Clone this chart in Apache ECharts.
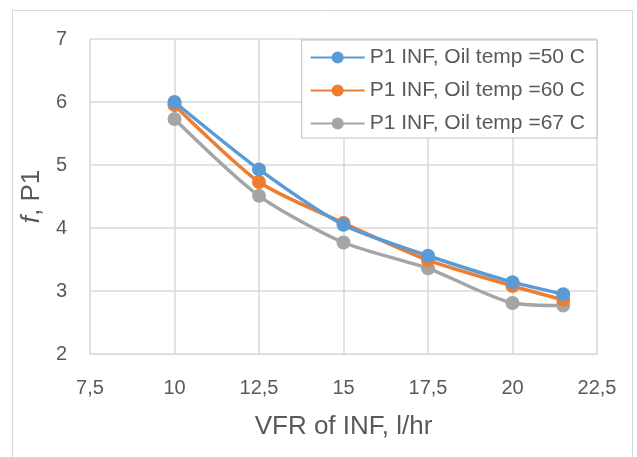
<!DOCTYPE html>
<html><head><meta charset="utf-8">
<script src="https://cdn.jsdelivr.net/npm/echarts@6/dist/echarts.min.js"></script>
<style>html,body{margin:0;padding:0;background:#fff}#c{width:637px;height:457px}</style>
</head><body><div id="c"></div>
<script>
const xValues = [10, 12.5, 15, 17.5, 20, 21.5];
const seriesNames = ['P1 INF, Oil temp =50 C', 'P1 INF, Oil temp =60 C', 'P1 INF, Oil temp =67 C'];
const temp50 = [6.00, 4.93, 4.05, 3.56, 3.14, 2.95];
const temp60 = [5.95, 4.73, 4.08, 3.49, 3.08, 2.86];
const temp67 = [5.73, 4.51, 3.77, 3.36, 2.81, 2.77];
const colors = ['#5b9bd5', '#ed7d31', '#a5a5a5'];
const allValues = [temp50, temp60, temp67];

const chart = echarts.init(document.getElementById('c'), null, {renderer: 'canvas'});
const font = 'Liberation Sans';
chart.setOption({
  animation: false,
  backgroundColor: '#fff',
  graphic: [{type: 'rect', shape: {x: 12.5, y: 10.5, width: 620, height: 450}, style: {fill: 'none', stroke: '#d9d9d9', lineWidth: 1}}],
  grid: {left: 90, right: 40, top: 39, bottom: 103, containLabel: false},
  legend: {
    orient: 'vertical', right: 40, top: 40,
    backgroundColor: '#fff', borderColor: '#bfbfbf', borderWidth: 1,
    padding: [7, 12, 4, 8], itemGap: 12, itemWidth: 54, itemHeight: 15,
    textStyle: {fontFamily: font, fontSize: 21, color: '#595959'},
    data: seriesNames
  },
  xAxis: {
    type: 'value', min: 7.5, max: 22.5, interval: 2.5,
    axisLine: {show: true, lineStyle: {color: '#d9d9d9', width: 1}},
    axisTick: {show: false},
    splitLine: {show: true, lineStyle: {color: '#d9d9d9', width: 1.5}},
    axisLabel: {fontFamily: font, fontSize: 20, color: '#595959', margin: 24,
      formatter: v => String(v).replace('.', ',')},
    name: 'VFR of INF, l/hr', nameLocation: 'middle', nameGap: 60,
    nameTextStyle: {fontFamily: font, fontSize: 26, color: '#595959'}
  },
  yAxis: {
    type: 'value', min: 2, max: 7, interval: 1,
    axisLine: {show: true, lineStyle: {color: '#d9d9d9', width: 1}},
    axisTick: {show: false},
    splitLine: {show: true, lineStyle: {color: '#d9d9d9', width: 1.5}},
    axisLabel: {fontFamily: font, fontSize: 20, color: '#595959', margin: 23},
    name: '{i|f}, P1', nameLocation: 'middle', nameGap: 43,
    nameTextStyle: {fontFamily: font, fontSize: 26, color: '#595959',
      rich: {i: {fontFamily: font, fontSize: 26, fontStyle: 'italic', color: '#595959'}}}
  },
  series: allValues.map((vals, k) => ({
    name: seriesNames[k], type: 'line', smooth: 0.25,
    data: xValues.map((x, i) => [x, vals[i]]),
    symbol: 'circle', symbolSize: 14,
    lineStyle: {color: colors[k], width: 3.5},
    itemStyle: {color: colors[k]},
    z: 10 - k
  }))
});
</script></body></html>
